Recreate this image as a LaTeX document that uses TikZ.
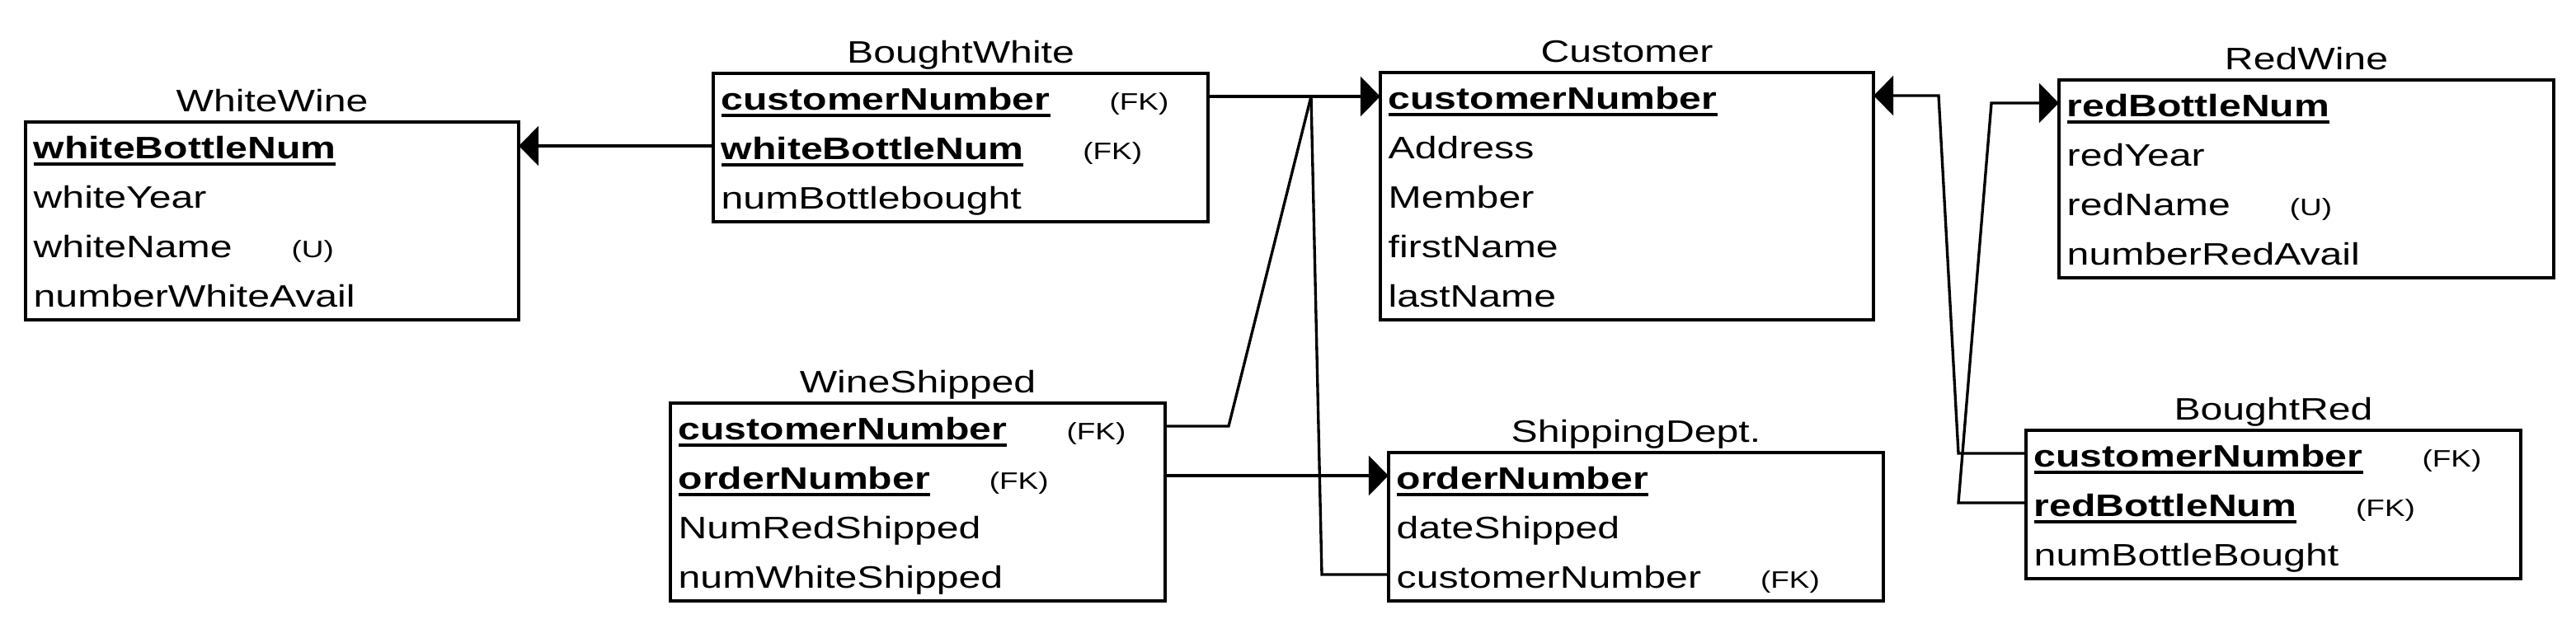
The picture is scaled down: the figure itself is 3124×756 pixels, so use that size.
\documentclass[tikz,border=0pt]{standalone}
\usepackage{fontspec}
\setmainfont[FakeStretch=1.28]{Liberation Sans}
\usetikzlibrary{arrows.meta}
\newcommand\pkey[1]{\sbox0{\bfseries #1}\rlap{\rule[-0.087cm]{\wd0}{0.033cm}}\usebox0}
\newcommand\tagnote[1]{\hspace{0.72cm}{\fontsize{8.2pt}{9pt}\selectfont #1}}
\begin{document}
\begin{tikzpicture}[x=0.01cm,y=-0.01cm,
  ebox/.style={draw, line width=1pt, rectangle, inner sep=0pt, outer sep=0pt},
  rowtext/.style={anchor=base west, inner sep=0pt, text height=0.44cm, text depth=0.12cm, font=\fontsize{10.7pt}{12pt}\selectfont},
  ttl/.style={anchor=base, inner sep=0pt, font=\fontsize{10.7pt}{12pt}\selectfont},
  conn/.style={line width=0.95pt, line join=miter},
  fkarrow/.style={conn, -{Triangle[length=0.24cm,width=0.48cm]}}]
\useasboundingbox (0,0) rectangle (3124,756);

% WhiteWine
\node[ebox, minimum width=5.98cm, minimum height=2.40cm] (ww) at (330,268) {};
\node[ttl] (wwt) at (330,135) {WhiteWine};
\node[rowtext] (ww1) at (40,192) {\pkey{whiteBottleNum}};
\node[rowtext] (ww2) at (40,252) {whiteYear};
\node[rowtext] (ww3) at (40,312) {whiteName\tagnote{(U)}};
\node[rowtext] (ww4) at (40,372) {numberWhiteAvail};

% BoughtWhite
\node[ebox, minimum width=6cm, minimum height=1.8cm] (bw) at (1165,179) {};
\node[ttl] (bwt) at (1165,76) {BoughtWhite};
\node[rowtext] (bw1) at (874,133) {\pkey{customerNumber}\tagnote{(FK)}};
\node[rowtext] (bw2) at (874,193) {\pkey{whiteBottleNum}\tagnote{(FK)}};
\node[rowtext] (bw3) at (874,253) {numBottlebought};

% Customer
\node[ebox, minimum width=5.98cm, minimum height=3.0cm] (cu) at (1973,238) {};
\node[ttl] (cut) at (1973,75) {Customer};
\node[rowtext] (cu1) at (1683,132) {\pkey{customerNumber}};
\node[rowtext] (cu2) at (1683,192) {Address};
\node[rowtext] (cu3) at (1683,252) {Member};
\node[rowtext] (cu4) at (1683,312) {firstName};
\node[rowtext] (cu5) at (1683,372) {lastName};

% RedWine
\node[ebox, minimum width=6cm, minimum height=2.4cm] (rw) at (2797,217) {};
\node[ttl] (rwt) at (2797,84) {RedWine};
\node[rowtext] (rw1) at (2506,141) {\pkey{redBottleNum}};
\node[rowtext] (rw2) at (2506,201) {redYear};
\node[rowtext] (rw3) at (2506,261) {redName\tagnote{(U)}};
\node[rowtext] (rw4) at (2506,321) {numberRedAvail};

% WineShipped
\node[ebox, minimum width=6cm, minimum height=2.4cm] (ws) at (1113,609) {};
\node[ttl] (wst) at (1113,476) {WineShipped};
\node[rowtext] (ws1) at (822,533) {\pkey{customerNumber}\tagnote{(FK)}};
\node[rowtext] (ws2) at (822,593) {\pkey{orderNumber}\tagnote{(FK)}};
\node[rowtext] (ws3) at (822,653) {NumRedShipped};
\node[rowtext] (ws4) at (822,713) {numWhiteShipped};

% ShippingDept.
\node[ebox, minimum width=6cm, minimum height=1.8cm] (sd) at (1984,639) {};
\node[ttl] (sdt) at (1984,536) {ShippingDept.};
\node[rowtext] (sd1) at (1693,593) {\pkey{orderNumber}};
\node[rowtext] (sd2) at (1693,653) {dateShipped};
\node[rowtext] (sd3) at (1693,713) {customerNumber\tagnote{(FK)}};

% BoughtRed
\node[ebox, minimum width=6cm, minimum height=1.8cm] (br) at (2757,612) {};
\node[ttl] (brt) at (2757,509) {BoughtRed};
\node[rowtext] (br1) at (2466,566) {\pkey{customerNumber}\tagnote{(FK)}};
\node[rowtext] (br2) at (2466,626) {\pkey{redBottleNum}\tagnote{(FK)}};
\node[rowtext] (br3) at (2466,686) {numBottleBought};

% junction points
\coordinate (j1) at (1590,0 |- bw1);
\coordinate (kws) at (1490,0 |- ws1);
\coordinate (ksd) at (1603,0 |- sd3);
\coordinate (kcu) at (2351,0 |- cu1);
\coordinate (kbr1) at (2375,0 |- br1);
\coordinate (krw) at (2415,0 |- rw1);
\coordinate (kbr2) at (2375,0 |- br2);

% connectors
\draw[fkarrow] (bw.west |- bw2) -- (ww.east |- bw2);
\draw[fkarrow] (bw.east |- bw1) -- (cu.west |- bw1);
\draw[conn] (ws.east |- ws1) -- (kws) -- (j1);
\draw[conn] (sd.west |- sd3) -- (ksd) -- (j1);
\draw[fkarrow] (ws.east |- ws2) -- (sd.west |- ws2);
\draw[fkarrow] (br.west |- br1) -- (kbr1) -- (kcu) -- (cu.east |- cu1);
\draw[fkarrow] (br.west |- br2) -- (kbr2) -- (krw) -- (rw.west |- rw1);
\end{tikzpicture}
\end{document}
